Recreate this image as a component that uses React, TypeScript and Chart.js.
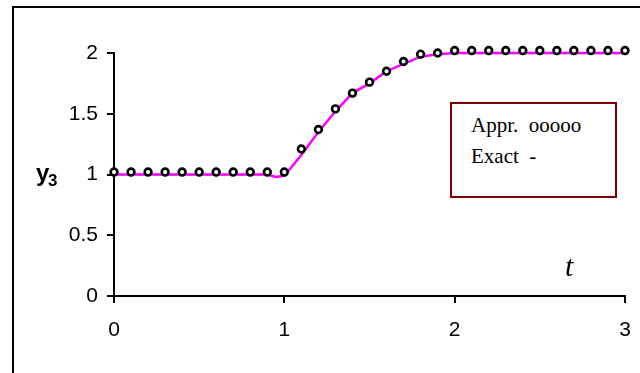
import React, { useEffect, useRef } from "react";
import { Chart, registerables } from "chart.js";

Chart.register(...registerables);

// Approximate solution (markers)
const apprT = [0, 0.1, 0.2, 0.3, 0.4, 0.5, 0.6, 0.7, 0.8, 0.9, 1.0, 1.1, 1.2, 1.3, 1.4, 1.5, 1.6, 1.7, 1.8, 1.9, 2.0, 2.1, 2.2, 2.3, 2.4, 2.5, 2.6, 2.7, 2.8, 2.9, 3.0];
const apprY = [1.02, 1.02, 1.02, 1.02, 1.02, 1.02, 1.02, 1.02, 1.02, 1.02, 1.02, 1.21, 1.37, 1.54, 1.67, 1.76, 1.85, 1.93, 1.99, 2.0, 2.02, 2.02, 2.02, 2.02, 2.02, 2.02, 2.02, 2.02, 2.02, 2.02, 2.02];

// Exact solution (line)
const exactT = [0, 0.5, 0.9, 0.95, 1.0, 1.1, 1.2, 1.3, 1.4, 1.5, 1.6, 1.7, 1.8, 1.9, 2.0, 2.5, 3.0];
const exactY = [1.0, 1.0, 1.0, 0.98, 0.99, 1.16, 1.35, 1.52, 1.67, 1.75, 1.85, 1.91, 1.97, 1.99, 2.0, 2.0, 2.0];

const xTicks = [0, 1, 2, 3];
const yTicks = [0, 0.5, 1, 1.5, 2];

const legendAppr = "Appr.  ooooo";
const legendExact = "Exact  -";
const yTitle = "y";
const yTitleSub = "3";
const xTitle = "t";

export default function App() {
  const ref = useRef<HTMLCanvasElement | null>(null);

  useEffect(() => {
    if (!ref.current) return;
    const tickFont = { family: "'Liberation Sans', Arial, sans-serif", size: 21 };
    const chart = new Chart(ref.current, {
      type: "scatter",
      data: {
        datasets: [
          {
            label: "Appr.",
            data: apprT.map((t, i) => ({ x: t, y: apprY[i] })),
            showLine: false,
            clip: false,
            pointStyle: "circle",
            pointRadius: 3.4,
            pointBorderWidth: 2.6,
            pointBorderColor: "#000000",
            pointBackgroundColor: "#ffffff",
          },
          {
            label: "Exact",
            data: exactT.map((t, i) => ({ x: t, y: exactY[i] })),
            showLine: true,
            clip: false,
            borderColor: "#ff00ff",
            borderWidth: 2.5,
            pointRadius: 0,
            tension: 0,
          },
        ],
      },
      options: {
        responsive: false,
        animation: false,
        layout: { padding: { left: 0, top: 53, right: 15, bottom: 0 } },
        plugins: {
          legend: { display: false },
          tooltip: { enabled: false },
        },
        scales: {
          x: {
            type: "linear",
            min: 0,
            max: 3,
            afterBuildTicks: (s: any) => {
              s.ticks = xTicks.map((v) => ({ value: v }));
            },
            afterFit: (s: any) => {
              s.height = 77;
              s.paddingLeft = 0;
              s.paddingRight = 0;
            },
            ticks: { color: "#000", font: tickFont, padding: 15, maxRotation: 0, callback: (v: any) => String(v) },
            grid: { drawOnChartArea: false, drawTicks: true, tickLength: 7, color: "#000", lineWidth: 2 },
            border: { display: true, color: "#000", width: 2 },
          },
          y: {
            type: "linear",
            min: 0,
            max: 2,
            afterBuildTicks: (s: any) => {
              s.ticks = yTicks.map((v) => ({ value: v }));
            },
            afterFit: (s: any) => {
              s.width = 114;
              s.paddingTop = 0;
              s.paddingBottom = 0;
            },
            ticks: { color: "#000", font: tickFont, padding: 9, callback: (v: any) => String(v) },
            grid: { drawOnChartArea: false, drawTicks: true, tickLength: 7, color: "#000", lineWidth: 2 },
            border: { display: true, color: "#000", width: 2 },
          },
        },
      },
    } as any);
    return () => chart.destroy();
  }, []);

  const serif = "'Liberation Serif', 'Times New Roman', serif";
  const sans = "'Liberation Sans', Arial, sans-serif";

  return (
    <div style={{ position: "absolute", left: 0, top: 0, width: 640, height: 373, overflow: "hidden", background: "#fff" }}>
      <canvas ref={ref} width={640} height={373} style={{ position: "absolute", left: 0, top: 0 }} />
      <div style={{ position: "absolute", left: 12, top: 6, width: 700, height: 400, borderTop: "2px solid #000", borderLeft: "2px solid #000" }} />
      <div style={{ position: "absolute", left: 450, top: 102, width: 167, height: 96, boxSizing: "border-box", border: "2px solid #800000", background: "#fff" }} />
      <div style={{ position: "absolute", left: 471, top: 115, fontFamily: serif, fontSize: 21, lineHeight: "21px", whiteSpace: "pre", color: "#000" }}>{legendAppr}</div>
      <div style={{ position: "absolute", left: 471, top: 146, fontFamily: serif, fontSize: 21, lineHeight: "21px", whiteSpace: "pre", color: "#000" }}>{legendExact}</div>
      <div style={{ position: "absolute", left: 36, top: 160.7, fontFamily: sans, fontWeight: "bold", fontSize: 24, lineHeight: "24px", color: "#000" }}>{yTitle}</div>
      <div style={{ position: "absolute", left: 48, top: 172, fontFamily: sans, fontWeight: "bold", fontSize: 17, lineHeight: "17px", color: "#000" }}>{yTitleSub}</div>
      <div style={{ position: "absolute", left: 565, top: 251.4, fontFamily: serif, fontStyle: "italic", fontSize: 30, lineHeight: "30px", color: "#000" }}>{xTitle}</div>
    </div>
  );
}
